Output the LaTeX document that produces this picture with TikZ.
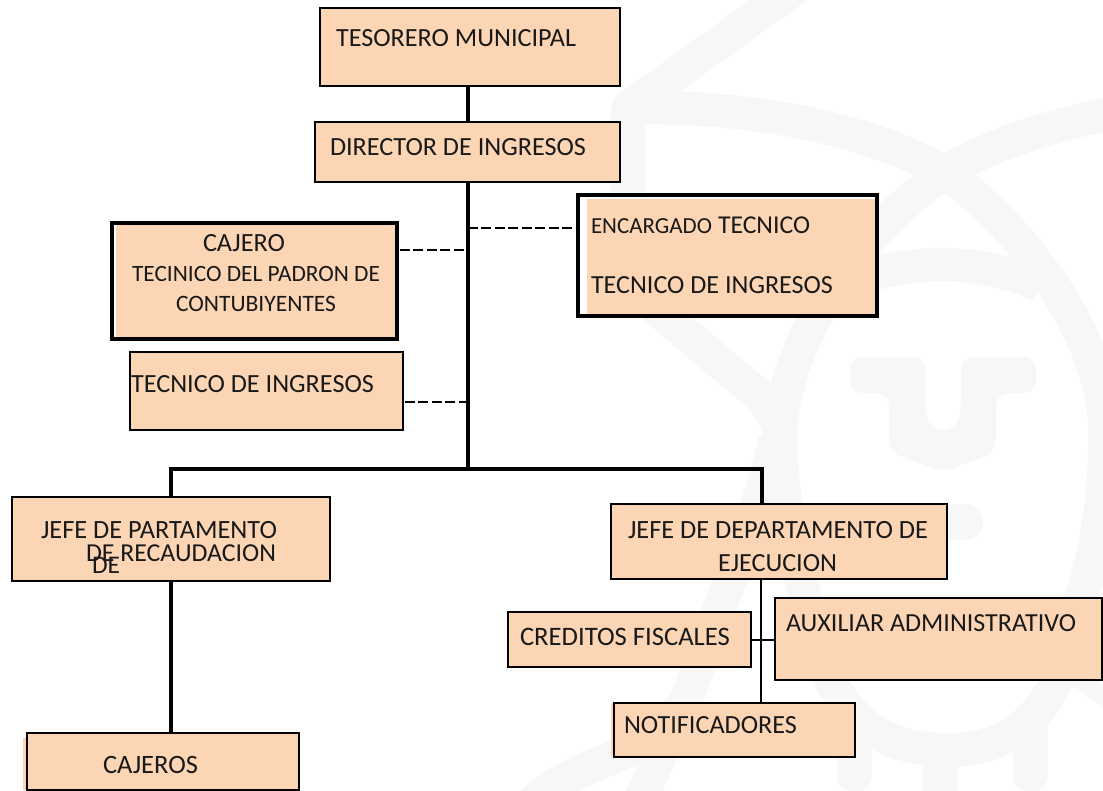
\documentclass[tikz,border=0pt]{standalone}
\usepackage{fontspec}
\setmainfont{Carlito}
\definecolor{boxfill}{HTML}{FCD5B4}
\definecolor{wm}{HTML}{F7F7F7}
\newcommand{\orgbox}[6][boxline]{%
  \node[#1,minimum width=#4*0.75pt,minimum height=#5*0.75pt,anchor=north west] (#6) at (#2,#3) {};}
\newcommand{\orgtext}[5]{%
  \node[lbl] (#5) at (#1,#2) {\resizebox{\dimexpr #3pt*3/4\relax}{!}{#4}};}
\tikzset{
  boxline/.style={draw=black,fill=boxfill,line width=2.05pt,inner sep=0pt,outer sep=0pt},
  boxheavy/.style={boxline,line width=2.4pt},
  lbl/.style={anchor=west,inner sep=0pt,outer sep=0pt,text=black!90},
  trunk/.style={line width=2.6pt,draw=black},
  thinlink/.style={line width=1.5pt,draw=black},
  dashlink/.style={line width=1.6pt,draw=black,dash pattern=on 7.5pt off 2.6pt},
  mark band/.style={draw=wm,line width=25pt,line join=round}
}
\begin{document}
\begin{tikzpicture}[x=0.75pt,y=-0.75pt]
\useasboundingbox (0,0) rectangle (1103,791);
\fill[white] (0,0) rectangle (1103,791);
% watermark
\begin{scope}
\clip (0,0) rectangle (1103,791);
\draw[mark band] (800,-15) -- (628,108) -- (628,285) -- (755,392) .. controls (772,408) and (778,420) .. (780,440);
\draw[mark band] (628,108) .. controls (740,105) and (860,125) .. (945,172) .. controls (1030,235) and (1105,340) .. (1105,433) .. controls (1105,500) and (1095,560) .. (1080,600) .. controls (1075,640) and (1068,665) .. (1056,682);
\draw[mark band] (945,172) .. controls (990,145) and (1050,125) .. (1115,113);
\draw[mark band] (945,172) .. controls (870,225) and (790,320) .. (780,430) .. controls (780,520) and (810,620) .. (833,685) .. controls (860,735) and (900,750) .. (950,750) .. controls (1000,750) and (1035,725) .. (1056,682);
\draw[mark band] (870,275) .. controls (930,258) and (985,262) .. (1040,285);
\draw[mark band] (775,440) .. controls (760,510) and (725,590) .. (690,690) -- (640,800);
\draw[mark band] (530,805) .. controls (560,775) and (600,765) .. (640,745) -- (690,700);
\draw[mark band,line width=27pt,line cap=round] (880,522) -- (965,522);
\draw[mark band,line width=14pt] (1075,675) -- (1115,705);
\draw[mark band,line width=26pt,line cap=round] (854.5,740) -- (854.5,775);
\draw[mark band,line width=26pt] (940.5,740) -- (940.5,800);
\draw[mark band,line width=26pt,line cap=round] (1030.5,730) -- (1030.5,775);
\fill[wm,rounded corners=9pt] (850,357) -- (925,357) -- (925,410) -- (930,430) -- (956,430) -- (961,410) -- (961,357) -- (1036,357) -- (1036,393) -- (996,393) -- (996,452) -- (943,472) -- (889,452) -- (889,393) -- (850,393) -- cycle;
\end{scope}
% boxes
\orgbox{320}{8}{300}{78}{tes}
\orgbox{315}{122}{305}{60}{dir}
\orgbox[boxheavy]{112}{223}{285}{116}{caj}
\orgbox{130}{352}{273}{78}{tec}
\orgbox[boxheavy]{578}{195}{299}{121}{enc}
\orgbox{12}{497}{318}{84}{jrec}
\orgbox{611}{504}{336}{75}{jeje}
\orgbox{508}{612}{243}{55}{cre}
\orgbox{775}{598}{327}{82}{aux}
\orgbox{614}{703}{241}{54}{not}
\orgbox{27}{733}{272}{57}{cjs}
% fill offsets seen in the boxes
\fill[white] (580,197) rectangle (587,314.5);
\fill[white] (580,197) rectangle (875,199.5);
\fill[white] (114,225) rectangle (116,337);
\fill[boxfill] (23,738) rectangle (25.8,790);
\fill[boxfill] (610.5,703) rectangle (612.8,756);
% connectors
\coordinate (bus) at (468,469);
\coordinate (busl) at (171,469);
\coordinate (busr) at (762,469);
\coordinate (dashr) at (468,228);
\coordinate (dashc) at (468,250);
\coordinate (dasht) at (468,402);
\coordinate (cajend) at (400,250);
\coordinate (tecend) at (405,402);
\coordinate (ejeline) at (761,640);
\draw[trunk] (tes.south -| bus) -- (dir.north -| bus);
\draw[trunk] (dir.south -| bus) -- (bus);
\draw[trunk,line cap=rect] (busl) -- (busr);
\draw[trunk] (busl) -- (busl |- jrec.north);
\draw[trunk] (busr) -- (busr |- jeje.north);
\draw[trunk] (jrec.south -| busl) -- (cjs.north -| busl);
\draw[thinlink] (jeje.south -| ejeline) -- (not.north -| ejeline);
\draw[thinlink] (cre.east |- ejeline) -- (aux.west |- ejeline);
\draw[dashlink] (dashr) -- (enc.west |- dashr);
\draw[dashlink] (cajend) -- (dashc);
\draw[dashlink] (tecend) -- (dasht);
% labels
\orgtext{336}{38}{240}{TESORERO MUNICIPAL}{t1}
\orgtext{330}{147}{256}{DIRECTOR DE INGRESOS}{t2}
\orgtext{203}{243}{82}{CAJERO}{t3}
\orgtext{132}{274}{248}{TECINICO DEL PADRON DE}{t4}
\orgtext{176}{304}{160}{CONTUBIYENTES}{t5}
\orgtext{131}{384}{243}{TECNICO DE INGRESOS}{t6}
\orgtext{591}{226}{121}{ENCARGADO}{t7}
\orgtext{718}{225}{92}{TECNICO}{t8}
\orgtext{591}{285}{242}{TECNICO DE INGRESOS}{t9}
\orgtext{41}{530}{236}{JEFE DE PARTAMENTO}{t10}
\orgtext{86}{553}{190}{DE RECAUDACION}{t11}
\orgtext{92}{565}{28}{DE}{t12}
\orgtext{628}{530}{300}{JEFE DE DEPARTAMENTO DE}{t13}
\orgtext{718}{563}{119}{EJECUCION}{t14}
\orgtext{520}{637}{210}{CREDITOS FISCALES}{t15}
\orgtext{786}{623}{290}{AUXILIAR ADMINISTRATIVO}{t16}
\orgtext{624}{725}{173}{NOTIFICADORES}{t17}
\orgtext{103}{765}{95}{CAJEROS}{t18}
\end{tikzpicture}
\end{document}
